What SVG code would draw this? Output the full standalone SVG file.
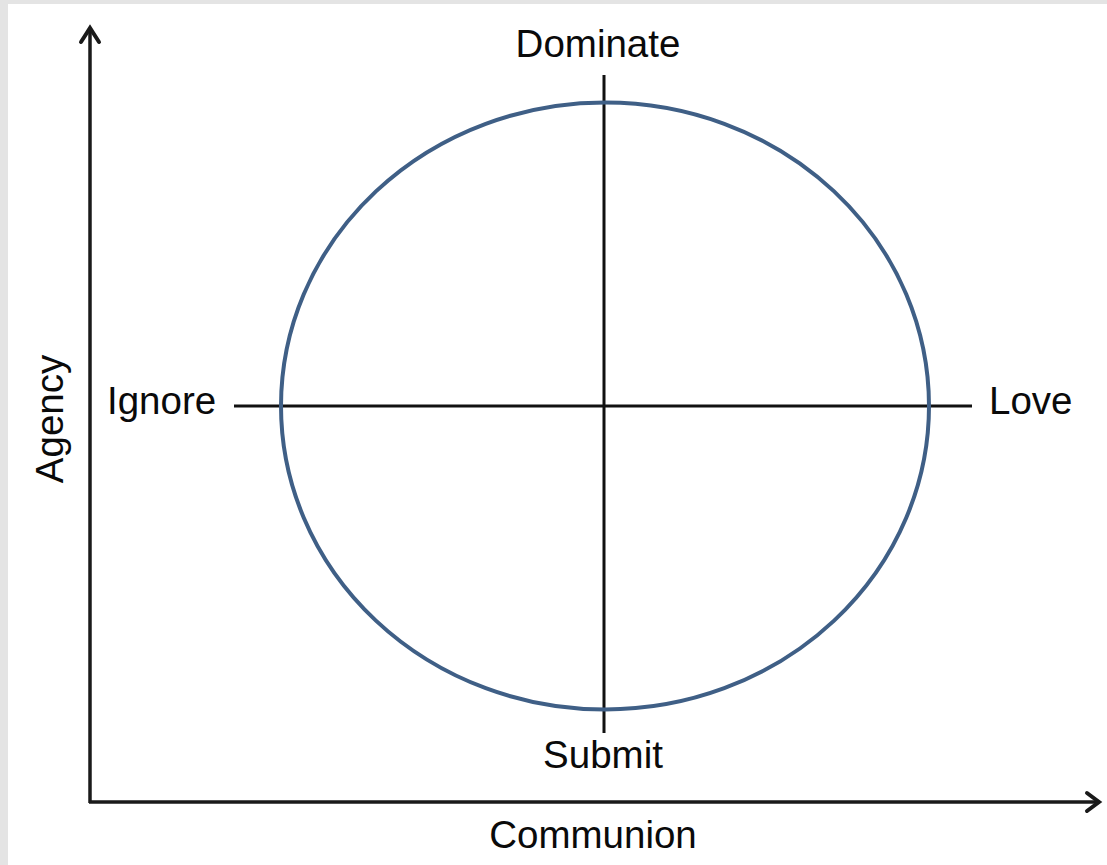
<svg xmlns="http://www.w3.org/2000/svg" width="1107" height="865" viewBox="0 0 1107 865">
<style>
.lbl{font-family:"Liberation Sans",Arial,sans-serif;font-size:38.5px;fill:#0a0a0a}
.ax{stroke:#1a1a1a;stroke-width:3.5;fill:none}
.ln{stroke:#111;stroke-width:3;fill:none}
.hd{stroke:#1a1a1a;stroke-width:4;fill:none;stroke-linecap:round;stroke-linejoin:miter}
</style>
<rect width="1107" height="865" fill="#e4e4e4"/>
<rect x="8" y="4" width="1099" height="861" fill="#fff"/>
<g id="connectors">
<line class="ax" x1="90" y1="30" x2="90" y2="803"/>
<line class="ax" x1="89" y1="802" x2="1096" y2="802"/>
<polyline class="hd" points="81,42 90,28 99,42"/>
<polyline class="hd" points="1087,793 1099,802 1087,811"/>
<line class="ln" x1="604" y1="75" x2="604" y2="733"/>
<line class="ln" x1="234" y1="406" x2="972" y2="406"/>
</g>
<g id="circle"><ellipse cx="605" cy="406" rx="324" ry="303.5" fill="none" stroke="#3f5f86" stroke-width="4"/></g>
<g id="dominate"><text class="lbl" x="598" y="57" text-anchor="middle">Dominate</text></g>
<g id="submit"><text class="lbl" x="603" y="768" text-anchor="middle">Submit</text></g>
<g id="ignore"><text class="lbl" x="107" y="414">Ignore</text></g>
<g id="love"><text class="lbl" x="989" y="414">Love</text></g>
<g id="communion"><text class="lbl" x="593" y="848" text-anchor="middle">Communion</text></g>
<g id="agency"><text class="lbl" transform="translate(63,419) rotate(-90)" text-anchor="middle">Agency</text></g>
</svg>
